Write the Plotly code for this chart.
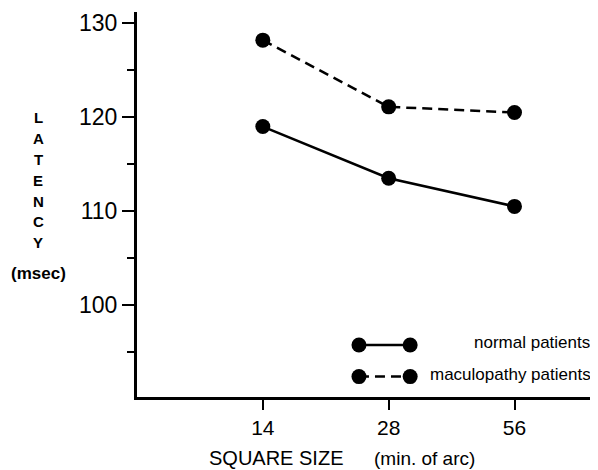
import plotly.graph_objects as go

square_sizes = ["14", "28", "56"]
x_pos = [1, 2, 3]
normal_latency = [119.0, 113.5, 110.5]
macula_latency = [128.2, 121.1, 120.5]
y_ticks = [100, 110, 120, 130]
y_minor = [95, 105, 115, 125]
legend_x = [0.49, 0.603]

FONT = "Liberation Sans, Arial, sans-serif"
DASH = "10px,6px"

# the page body adds an 8px offset; figure is sized to fit the 598x470 window
OFF = 8
W, H = 598 - OFF, 470 - OFF
ML, MR, MT, MB = 137 - OFF, 8, 12 - OFF, 73

fig = go.Figure()

fig.add_trace(go.Scatter(
    x=x_pos, y=macula_latency, mode="lines+markers",
    line=dict(color="black", width=2.5, dash=DASH),
    marker=dict(color="black", size=15), showlegend=False, cliponaxis=False))
fig.add_trace(go.Scatter(
    x=x_pos, y=normal_latency, mode="lines+markers",
    line=dict(color="black", width=2.5),
    marker=dict(color="black", size=15), showlegend=False, cliponaxis=False))

# legend samples on an invisible overlay axis
fig.add_trace(go.Scatter(
    x=legend_x, y=[0.135, 0.135], mode="lines+markers",
    line=dict(color="black", width=2.5),
    marker=dict(color="black", size=15), showlegend=False,
    xaxis="x2", yaxis="y2", cliponaxis=False))
fig.add_trace(go.Scatter(
    x=legend_x, y=[0.053, 0.053], mode="lines+markers",
    line=dict(color="black", width=2.5, dash=DASH),
    marker=dict(color="black", size=15), showlegend=False,
    xaxis="x2", yaxis="y2", cliponaxis=False))

fig.update_layout(
    width=W, height=H,
    margin=dict(l=ML, r=MR, t=MT, b=MB),
    paper_bgcolor="white", plot_bgcolor="white",
    font=dict(family=FONT, color="black"),
    xaxis=dict(
        range=[0, 3.6], tickmode="array", tickvals=x_pos, ticktext=square_sizes,
        showgrid=False, zeroline=False, showline=True, linecolor="black", linewidth=3,
        ticks="outside", ticklen=10, tickwidth=1.5, tickcolor="black",
        tickfont=dict(size=21, family=FONT), automargin=False),
    yaxis=dict(
        range=[90.2, 131.2], tickmode="array", tickvals=y_ticks,
        showgrid=False, zeroline=False, showline=True, linecolor="black", linewidth=3,
        ticks="outside", ticklen=12, tickwidth=1.5, tickcolor="black",
        tickfont=dict(size=23, family=FONT), automargin=False,
        minor=dict(tickmode="array", tickvals=y_minor, ticks="outside", ticklen=7,
                   tickwidth=1.5, tickcolor="black")),
    xaxis2=dict(overlaying="x", range=[0, 1], visible=False, automargin=False),
    yaxis2=dict(overlaying="y", range=[0, 1], visible=False, automargin=False),
)

annotations = [
    dict(text="SQUARE SIZE", x=207, y=458, xanchor="left", yanchor="middle",
         font=dict(size=20)),
    dict(text="(min. of arc)", x=372, y=458, xanchor="left", yanchor="middle",
         font=dict(size=19)),
    dict(text="normal patients", x=592, y=342, xanchor="right", yanchor="middle",
         font=dict(size=17)),
    dict(text="maculopathy patients", x=593, y=374, xanchor="right", yanchor="middle",
         font=dict(size=17)),
    dict(text="(msec)", x=38, y=273, xanchor="center", yanchor="middle",
         font=dict(size=17, weight="bold")),
]
for i, ch in enumerate("LATENCY"):
    annotations.append(dict(text=ch, x=38, y=118 + i * 20.8, xanchor="center",
                            yanchor="middle", font=dict(size=15, weight="bold")))

pw = W - ML - MR
ph = H - MT - MB
for a in annotations:
    a.update(xref="paper", yref="paper", showarrow=False)
    a["x"] = (a["x"] - OFF - ML) / pw
    a["y"] = 1 - (a["y"] - OFF - MT) / ph

fig.update_layout(annotations=annotations)

fig.write_html("out.html")
